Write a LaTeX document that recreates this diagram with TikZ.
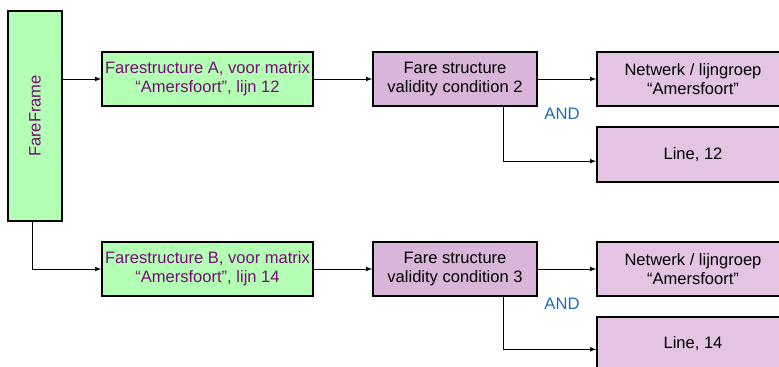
\documentclass[tikz,border=0pt]{standalone}
\usepackage{fontspec}
\setmainfont{Liberation Sans}
\definecolor{framegreen}{HTML}{B3FFB3}
\definecolor{condpink}{HTML}{D9B5D9}
\definecolor{refpink}{HTML}{E3C4E3}
\definecolor{textpurple}{HTML}{7A0A7A}
\definecolor{andblue}{HTML}{2468B8}
\tikzset{
  greenbox/.style={draw=black,line width=1.3pt,fill=framegreen,text=textpurple,
    minimum width=158.25pt,minimum height=40.5pt,align=center,inner sep=0pt,font=\fontsize{12.4}{14.5}\selectfont},
  condbox/.style={draw=black,line width=1.3pt,fill=condpink,
    minimum width=123pt,minimum height=40.5pt,align=center,inner sep=0pt,font=\fontsize{12.4}{14.5}\selectfont},
  refbox/.style={draw=black,line width=1.3pt,fill=refpink,
    minimum width=144pt,minimum height=41pt,align=center,inner sep=0pt,font=\fontsize{12.4}{14.5}\selectfont},
  andlabel/.style={text=andblue,font=\fontsize{12.5}{14}\selectfont},
  link/.style={-latex,line width=0.6pt}
}
\begin{document}
\begin{tikzpicture}[x=0.75pt,y=-0.75pt]
  \useasboundingbox (0,0) rectangle (779,367);
  \clip (0,0) rectangle (779,367);
  %\draw[very thin,color=gray] (0,0) grid[step=50] (779,367);

  % frame
  \node[draw=black,line width=1.3pt,fill=framegreen,text=textpurple,minimum width=40.5pt,minimum height=157.5pt,inner sep=0pt] (frame) at (35,116) {};
  \node[rotate=90,text=textpurple,font=\fontsize{12.4}{14.5}\selectfont] (frametext) at (frame.center) {FareFrame};

  % row A
  \node[greenbox] (fsA) at (207.5,79) {Farestructure A, voor matrix\\\textquotedblleft Amersfoort\textquotedblright, lijn 12};
  \node[condbox] (condA) at (455,79) {Fare structure\\validity condition 2};
  \node[refbox] (netA) at (693,79) {Netwerk / lijngroep\\\textquotedblleft Amersfoort\textquotedblright};
  \node[refbox] (lineA) at (693,154.5) {Line, 12};
  \node[andlabel] (andA) at (562,114) {AND};

  % row B
  \node[greenbox] (fsB) at (207.5,269) {Farestructure B, voor matrix\\\textquotedblleft Amersfoort\textquotedblright, lijn 14};
  \node[condbox] (condB) at (455,269) {Fare structure\\validity condition 3};
  \node[refbox] (netB) at (693,269) {Netwerk / lijngroep\\\textquotedblleft Amersfoort\textquotedblright};
  \node[refbox] (lineB) at (693,344) {Line, 14};
  \node[andlabel] (andB) at (562,304) {AND};

  % connectors
  \draw[link] (frame.east |- fsA) -- (fsA.west);
  \draw[link] (frame.south -| 32,0) |- (fsB.west);
  \draw[link] (fsA) -- (condA);
  \draw[link] (fsB) -- (condB);
  \draw[link] (condA) -- (netA);
  \draw[link] (condB) -- (netB);
  \draw[link] (condA.south -| 503,0) |- ([yshift=-5pt]lineA.west);
  \draw[link] (condB.south -| 503,0) |- ([yshift=-4pt]lineB.west);
\end{tikzpicture}
\end{document}
